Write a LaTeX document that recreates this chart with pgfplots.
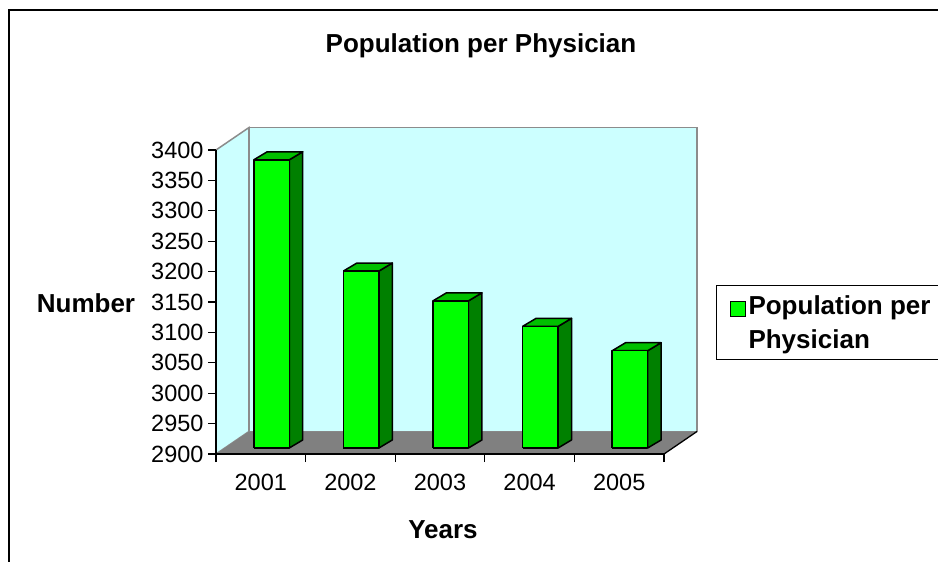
\documentclass[border=0pt]{standalone}
\usepackage{fontspec}
\setmainfont{Liberation Sans}
\usepackage{pgfplots}
\pgfplotsset{compat=1.18}
\definecolor{frontgreen}{HTML}{00FF00}
\definecolor{sidegreen}{HTML}{008000}
\definecolor{topgreen}{HTML}{00C000}
\definecolor{wallcyan}{HTML}{CCFFFF}
\definecolor{floorgray}{HTML}{808080}
\definecolor{wallline}{HTML}{8C8C8C}

% bar geometry (axis units)
\newcommand\BarW{0.396}
\newcommand\BarXoff{0.12}
\newcommand\BarYoff{9.9}
\newcommand\BarDx{0.15}
\newcommand\BarDy{13.2}

% draws one 3-D column for category #1 with value #2
\newcommand\ThreeDBar[2]{%
  \pgfmathsetmacro\xl{#1+\BarXoff-\BarW/2}%
  \pgfmathsetmacro\xr{#1+\BarXoff+\BarW/2}%
  \pgfmathsetmacro\xlb{\xl+\BarDx}%
  \pgfmathsetmacro\xrb{\xr+\BarDx}%
  \pgfmathsetmacro\yb{2900+\BarYoff}%
  \pgfmathsetmacro\yt{#2+\BarYoff}%
  \pgfmathsetmacro\ybb{\yb+\BarDy}%
  \pgfmathsetmacro\ytb{\yt+\BarDy}%
  \edef\doit{%
    \noexpand\addplot[forget plot, fill=sidegreen, draw=black, line width=1.5pt, line join=round]
      coordinates {(\xr,\yb) (\xrb,\ybb) (\xrb,\ytb) (\xr,\yt) (\xr,\yb)};
    \noexpand\addplot[forget plot, fill=topgreen, draw=black, line width=1.5pt, line join=round]
      coordinates {(\xl,\yt) (\xr,\yt) (\xrb,\ytb) (\xlb,\ytb) (\xl,\yt)};
    \noexpand\addplot[forget plot, fill=frontgreen, draw=black, line width=1.5pt, line join=round]
      coordinates {(\xl,\yb) (\xr,\yb) (\xr,\yt) (\xl,\yt) (\xl,\yb)};
  }\doit
}

\begin{document}
\begin{tikzpicture}
\path[use as bounding box] (0pt,0pt) rectangle (938pt,-562pt);
\fill[white] (0pt,0pt) rectangle (938pt,-562pt);
\draw[line width=2.5pt] (9pt,-575pt) -- (9pt,-10pt) -- (950pt,-10pt);

\node[font=\bfseries\fontsize{26}{30}\selectfont] at (481pt,-46pt) {Population per Physician};
\node[font=\bfseries\fontsize{26}{30}\selectfont] at (86pt,-303pt) {Number};
\node[font=\bfseries\fontsize{26}{30}\selectfont] at (443pt,-530pt) {Years};

\begin{axis}[
  at={(216pt,-454pt)}, anchor=south west,
  scale only axis, width=448pt, height=304pt,
  xmin=-0.5, xmax=4.5, ymin=2900, ymax=3400,
  clip=false, axis on top,
  axis x line*=bottom, axis y line*=left,
  every non boxed x axis/.append style={x axis line style=-},
  every non boxed y axis/.append style={y axis line style=-},
  axis line style={-, black, line width=1.3pt},
  ytick={2900,2950,...,3400},
  xtick={-0.5,0.5,...,4.5},
  x tick label as interval,
  xticklabels={2001,2002,2003,2004,2005},
  tick align=outside,
  major tick length=8pt,
  tick style={black, line width=1.3pt},
  ticklabel style={font=\fontsize{23.5}{27}\selectfont},
  /pgf/number format/assume math mode=true,
  /pgf/number format/1000 sep={},
  yticklabel style={xshift=-1pt},
  xticklabel style={yshift=-9pt},
  legend style={at={(axis description cs:1.1161,0.5559)}, anchor=north west,
    draw=black, line width=1pt, inner xsep=10pt, inner ysep=8pt,
    font=\bfseries\fontsize{26}{34}\selectfont, cells={align=left}},
  legend image code/.code={%
    \path[draw=none, fill=none] (0pt,0pt) -- (20pt,0pt);
    \draw[fill=frontgreen, draw=black, line width=1pt] (4pt,6pt) rectangle (19pt,21pt);},
]
% walls and floor
\addplot[forget plot, fill=wallcyan, draw=wallline, line width=1.5pt]
  coordinates {(-0.5,2900) (-0.5,3400) (-0.132,3437) (-0.132,2937) (-0.5,2900)};
\addplot[forget plot, fill=wallcyan, draw=wallline, line width=1.5pt]
  coordinates {(-0.132,2937) (4.868,2937) (4.868,3437) (-0.132,3437) (-0.132,2937)};
\addplot[forget plot, fill=floorgray, draw=none]
  coordinates {(-0.5,2900) (4.5,2900) (4.868,2937) (-0.132,2937) (-0.5,2900)};
\addplot[forget plot, draw=black, line width=1.3pt]
  coordinates {(4.5,2900) (4.868,2937)};

% data: 2001..2005
\ThreeDBar{0}{3374}
\ThreeDBar{1}{3191}
\ThreeDBar{2}{3142}
\ThreeDBar{3}{3100}
\ThreeDBar{4}{3060}

\addlegendimage{}
\addlegendentry{Population per\\Physician}
\end{axis}
\end{tikzpicture}
\end{document}
